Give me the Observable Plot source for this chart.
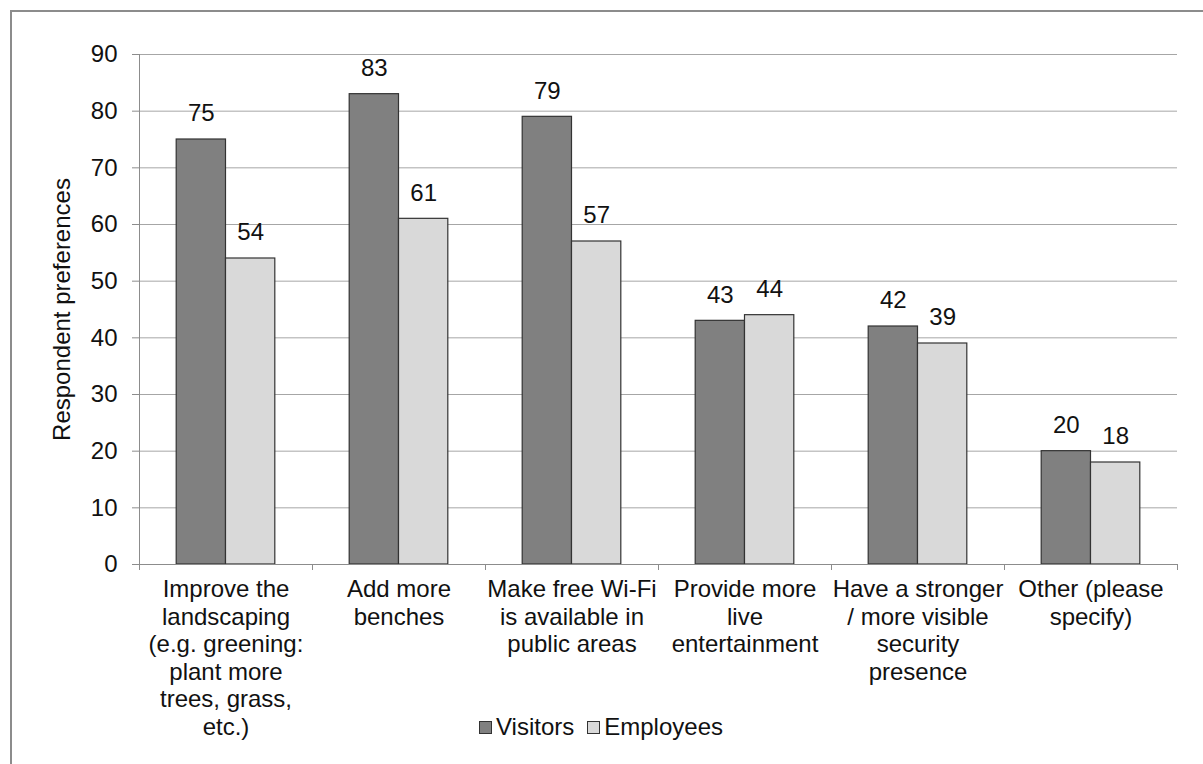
<!DOCTYPE html>
<html>
<head>
<meta charset="utf-8">
<script src="https://cdn.jsdelivr.net/npm/d3@7"></script>
<script src="https://cdn.jsdelivr.net/npm/@observablehq/plot@0.6"></script>
<style>
  html, body { margin: 0; padding: 0; background: #fff; overflow: hidden; width: 1203px; height: 764px; }
  #wrap { position: relative; width: 1203px; height: 764px; font-family: "Liberation Sans", Arial, sans-serif; }
  #frame { position: absolute; left: 10px; top: 10px; width: 1300px; height: 900px;
           border-top: 2px solid #8c8c8c; border-left: 2px solid #8c8c8c; }
  #chart { position: absolute; left: 0; top: 0; }
  #legend { position: absolute; left: 479px; top: 713px; display: flex; align-items: center;
            font-size: 24px; color: #111; }
  .item { display: flex; align-items: center; margin-right: 13px; }
  .sw { width: 11px; height: 11px; border: 1px solid #333; margin-right: 4px; }
</style>
</head>
<body>
<div id="wrap">
  <div id="frame"></div>
  <div id="chart"></div>
  <div id="legend"></div>
</div>
<script>
const categories = [
  "Improve the\nlandscaping\n(e.g. greening:\nplant more\ntrees, grass,\netc.)",
  "Add more\nbenches",
  "Make free Wi-Fi\nis available in\npublic areas",
  "Provide more\nlive\nentertainment",
  "Have a stronger\n/ more visible\nsecurity\npresence",
  "Other (please\nspecify)"
];
const seriesNames = ["Visitors", "Employees"];
const visitors = [75, 83, 79, 43, 42, 20];
const employees = [54, 61, 57, 44, 39, 18];
const yTicks = [0, 10, 20, 30, 40, 50, 60, 70, 80, 90];
const seriesColors = ["#808080", "#d9d9d9"];

const data = categories.flatMap((c, i) => [
  {i, category: c, series: "Visitors", value: visitors[i]},
  {i, category: c, series: "Employees", value: employees[i]}
]);

// bar placement within each category band (band = 1 unit)
const groupStart = 0.215, groupMid = 0.5, groupEnd = 0.785;
const x1 = d => d.i + (d.series === "Visitors" ? groupStart : groupMid);
const x2 = d => d.i + (d.series === "Visitors" ? groupMid : groupEnd);
const xc = d => (x1(d) + x2(d)) / 2;

const chart = Plot.plot({
  width: 1203,
  height: 764,
  marginLeft: 139,
  marginRight: 26,
  marginTop: 54,
  marginBottom: 200,
  style: {fontFamily: '"Liberation Sans", Arial, sans-serif', fontSize: "24px", color: "#111", background: "transparent"},
  x: {domain: [0, categories.length], axis: null},
  y: {domain: [0, 90], axis: null},
  color: {domain: seriesNames, range: seriesColors},
  marks: [
    Plot.gridY(yTicks.slice(1), {stroke: "#a6a6a6", strokeOpacity: 1}),
    Plot.rectY(data, {x1, x2, y: "value", fill: "series", stroke: "#333", strokeWidth: 1.2}),
    Plot.text(data, {x: xc, y: "value", text: d => String(d.value), dy: -26, lineAnchor: "middle", fill: "#111", fontSize: 24}),
    Plot.ruleX([0], {stroke: "#8c8c8c"}),
    Plot.ruleY([0], {stroke: "#8c8c8c"}),
    Plot.axisY(yTicks, {tickSize: 7, tickPadding: 15, stroke: "#8c8c8c", fill: "#111", label: null, fontSize: 24}),
    Plot.axisX(d3.range(categories.length + 1), {tickSize: 6, tickFormat: () => "", stroke: "#8c8c8c", label: null}),
    Plot.axisX(categories.map((c, i) => i + 0.5), {tickSize: 0, tickPadding: 13, tickFormat: d => categories[Math.floor(d)], lineHeight: 1.15, fill: "#111", label: null, fontSize: 24}),
    Plot.text(["Respondent preferences"], {frameAnchor: "left", textAnchor: "middle", rotate: -90, dx: -77, lineAnchor: "middle", fill: "#111", fontSize: 24})
  ]
});
document.getElementById("chart").appendChild(chart);

const legend = document.getElementById("legend");
seriesNames.forEach((s, k) => {
  const item = document.createElement("div");
  item.className = "item";
  const sw = document.createElement("div");
  sw.className = "sw";
  sw.style.background = seriesColors[k];
  const t = document.createElement("span");
  t.textContent = s;
  item.appendChild(sw);
  item.appendChild(t);
  legend.appendChild(item);
});
</script>
</body>
</html>
